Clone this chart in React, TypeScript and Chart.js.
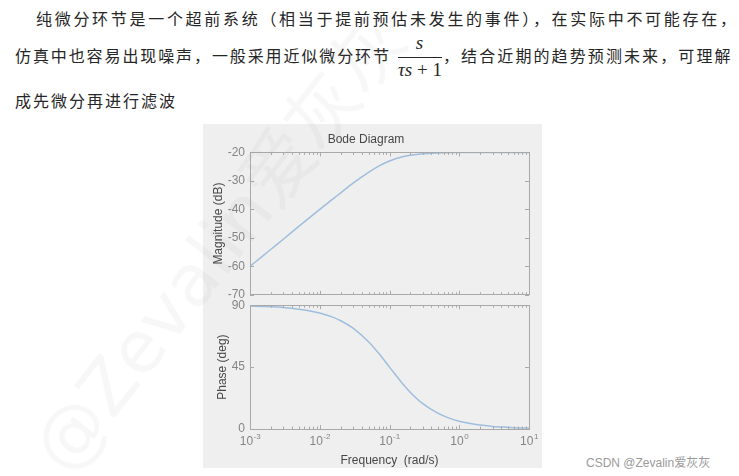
import React, { useEffect, useRef } from 'react';
import { Chart, registerables } from 'chart.js';

Chart.register(...registerables);

// ---- data ----
const frequencies = [0.001, 0.0015, 0.002, 0.003, 0.005, 0.007, 0.01, 0.015, 0.02, 0.03, 0.05, 0.07, 0.1, 0.15, 0.2, 0.3, 0.5, 0.7, 1, 1.5, 2, 3, 5, 7, 10];
const magnitudeDb = [-60, -56.5, -54, -50.5, -46, -43.1, -40, -36.6, -34.2, -30.8, -27, -24.8, -23, -21.6, -21, -20.5, -20.2, -20.1, -20, -20, -20, -20, -20, -20, -20];
const phaseDeg = [89.4, 89.1, 88.9, 88.3, 87.1, 86, 84.3, 81.5, 78.7, 73.3, 63.4, 55, 45, 33.7, 26.6, 18.4, 11.3, 8.1, 5.7, 3.8, 2.9, 1.9, 1.2, 0.8, 0.6];
const magTickValues = [-70, -60, -50, -40, -30, -20];
const phaseTickValues = [0, 45, 90];
const decadeValues = [0.001, 0.01, 0.1, 1, 10];
const decadeExponents = ['-3', '-2', '-1', '0', '1'];

const FONT = '"Liberation Sans", Arial, Helvetica, sans-serif';
const frameColor = '#a9a9a9';
const tickLabelColor = '#858585';
const titleColor = '#474747';
const lineColor = '#9fbedd';

const framePlugin = {
  id: 'matlabFrame',
  afterDraw(chart: any, _args: any, opts: any) {
    const { ctx, chartArea } = chart;
    const { left, right, top, bottom } = chartArea;
    const xs = chart.scales.x;
    const ys = chart.scales.y;
    ctx.save();
    ctx.strokeStyle = frameColor;
    ctx.lineWidth = 1;
    ctx.strokeRect(Math.round(left) + 0.5, Math.round(top) + 0.5, Math.round(right - left), Math.round(bottom - top));
    ctx.beginPath();
    for (let e = -3; e <= 1; e++) {
      for (let m = 1; m <= 9; m++) {
        const v = m * Math.pow(10, e);
        if (v > 10.0001) break;
        const px = Math.round(xs.getPixelForValue(v)) + 0.5;
        const len = m === 1 ? 4 : 2.5;
        ctx.moveTo(px, top);
        ctx.lineTo(px, top + len);
        ctx.moveTo(px, bottom);
        ctx.lineTo(px, bottom - len);
      }
    }
    ys.ticks.forEach((t: any) => {
      const py = Math.round(ys.getPixelForValue(t.value)) + 0.5;
      ctx.moveTo(left, py);
      ctx.lineTo(left + 4, py);
      ctx.moveTo(right, py);
      ctx.lineTo(right - 4, py);
    });
    ctx.stroke();

    if (opts && opts.decadeLabels) {
      ctx.fillStyle = tickLabelColor;
      ctx.textBaseline = 'middle';
      decadeValues.forEach((v, i) => {
        const px = xs.getPixelForValue(v);
        ctx.font = `12px ${FONT}`;
        const wBase = ctx.measureText('10').width;
        ctx.font = `8px ${FONT}`;
        const wExp = ctx.measureText(decadeExponents[i]).width;
        const x0 = px - (wBase + wExp) / 2;
        ctx.font = `12px ${FONT}`;
        ctx.textAlign = 'left';
        ctx.fillText('10', x0, bottom + 13);
        ctx.font = `8px ${FONT}`;
        ctx.fillText(decadeExponents[i], x0 + wBase + 0.5, bottom + 8);
      });
    }
    ctx.restore();
  },
};

function makeOptions(kind: 'mag' | 'phase'): any {
  const isMag = kind === 'mag';
  return {
    responsive: false,
    animation: false,
    devicePixelRatio: 1,
    layout: { padding: isMag ? { left: 0, right: 13, top: 0, bottom: 3 } : { left: 0, right: 13, top: 8, bottom: 0 } },
    plugins: {
      legend: { display: false },
      tooltip: { enabled: false },
      title: {
        display: isMag,
        text: 'Bode Diagram',
        color: titleColor,
        font: { family: FONT, size: 12, weight: 'normal' },
        padding: { top: 8, bottom: 6 },
      },
      matlabFrame: { decadeLabels: !isMag },
    },
    scales: {
      x: {
        type: 'logarithmic',
        min: 0.001,
        max: 10,
        display: !isMag,
        grid: { display: false, drawTicks: false },
        border: { display: false },
        ticks: { display: false },
        afterBuildTicks: (scale: any) => {
          scale.ticks = decadeValues.map((v) => ({ value: v }));
        },
        afterFit: (scale: any) => {
          scale.height = isMag ? 0 : 39;
        },
        title: {
          display: !isMag,
          text: 'Frequency  (rad/s)',
          color: titleColor,
          font: { family: FONT, size: 12 },
          padding: { top: 0, bottom: 0 },
        },
      },
      y: {
        min: isMag ? -70 : 0,
        max: isMag ? -20 : 90,
        grid: { display: false, drawTicks: false, tickLength: 0 },
        border: { display: false },
        afterBuildTicks: (scale: any) => {
          scale.ticks = (isMag ? magTickValues : phaseTickValues).map((v) => ({ value: v }));
        },
        afterFit: (scale: any) => {
          scale.width = 47;
        },
        ticks: {
          color: tickLabelColor,
          padding: 5,
          font: { family: FONT, size: 12 },
        },
        title: {
          display: true,
          text: isMag ? 'Magnitude (dB)' : 'Phase (deg)',
          color: titleColor,
          font: { family: FONT, size: 12 },
          padding: { top: isMag ? 8 : 12, bottom: 0 },
        },
      },
    },
  };
}

function BodeChart({ kind, top, height }: { kind: 'mag' | 'phase'; top: number; height: number }) {
  const ref = useRef<HTMLCanvasElement | null>(null);
  useEffect(() => {
    if (!ref.current) return;
    const values = kind === 'mag' ? magnitudeDb : phaseDeg;
    const chart = new Chart(ref.current, {
      type: 'line',
      data: {
        datasets: [
          {
            data: frequencies.map((f, i) => ({ x: f, y: values[i] })),
            borderColor: lineColor,
            borderWidth: 1.5,
            pointRadius: 0,
            cubicInterpolationMode: 'monotone',
            fill: false,
          },
        ],
      },
      options: makeOptions(kind),
      plugins: [framePlugin],
    } as any);
    return () => chart.destroy();
  }, [kind]);
  return <canvas ref={ref} width={339} height={height} style={{ position: 'absolute', left: 0, top, width: 339, height }} />;
}

const cjk = '"Noto Sans CJK SC", sans-serif';
const textColor = '#262626';

export default function App() {
  const lineStyle: React.CSSProperties = {
    position: 'absolute',
    whiteSpace: 'nowrap',
    fontFamily: cjk,
    fontSize: 16,
    lineHeight: '16px',
    color: textColor,
  };
  return (
    <div style={{ position: 'fixed', left: 0, top: 0, width: 739, height: 476, background: '#fff', overflow: 'hidden' }}>
      <div style={{ ...lineStyle, left: 36, top: 10, letterSpacing: 2.7 }}>
        纯微分环节是一个超前系统（相当于提前预估未发生的事件），在实际中不可能存在，
      </div>
      <div style={{ ...lineStyle, left: 15, top: 47, letterSpacing: 1.9 }}>仿真中也容易出现噪声，一般采用近似微分环节</div>
      <div style={{ position: 'absolute', left: 397, top: 33, width: 45, textAlign: 'center', fontFamily: '"Liberation Serif", serif', fontStyle: 'italic', fontSize: 19, lineHeight: '20px', color: textColor }}>s</div>
      <div style={{ position: 'absolute', left: 398, top: 57, width: 44, height: 1, background: textColor }} />
      <div style={{ position: 'absolute', left: 397, top: 60, width: 46, textAlign: 'center', fontFamily: '"Liberation Serif", serif', fontSize: 19, lineHeight: '20px', color: textColor, whiteSpace: 'nowrap' }}>
        <i>τs</i> + 1
      </div>
      <div style={{ ...lineStyle, left: 443, top: 47, letterSpacing: 2.1 }}>，结合近期的趋势预测未来，可理解</div>
      <div style={{ ...lineStyle, left: 15, top: 92, letterSpacing: 2 }}>成先微分再进行滤波</div>

      <div style={{ position: 'absolute', left: 203, top: 124, width: 339, height: 344, background: '#f0eff0' }}>
        <BodeChart kind="mag" top={0} height={183} />
        <BodeChart kind="phase" top={169} height={175} />
      </div>

      <div style={{ position: 'absolute', left: 586, top: 456, fontFamily: '"Liberation Sans", "Noto Sans CJK SC", sans-serif', fontSize: 12, lineHeight: '14px', color: '#9a9a9a', whiteSpace: 'nowrap' }}>
        CSDN @Zevalin爱灰灰
      </div>

      <div
        style={{
          position: 'absolute',
          left: 20,
          top: 440,
          transformOrigin: '0 0',
          transform: 'rotate(-52deg)',
          fontFamily: '"DejaVu Sans", "Noto Sans CJK SC", sans-serif',
          fontSize: 72,
          lineHeight: '72px',
          color: 'rgba(120,120,120,0.06)',
          whiteSpace: 'nowrap',
          pointerEvents: 'none',
        }}
      >
        @Zevalin爱灰灰
      </div>
    </div>
  );
}
